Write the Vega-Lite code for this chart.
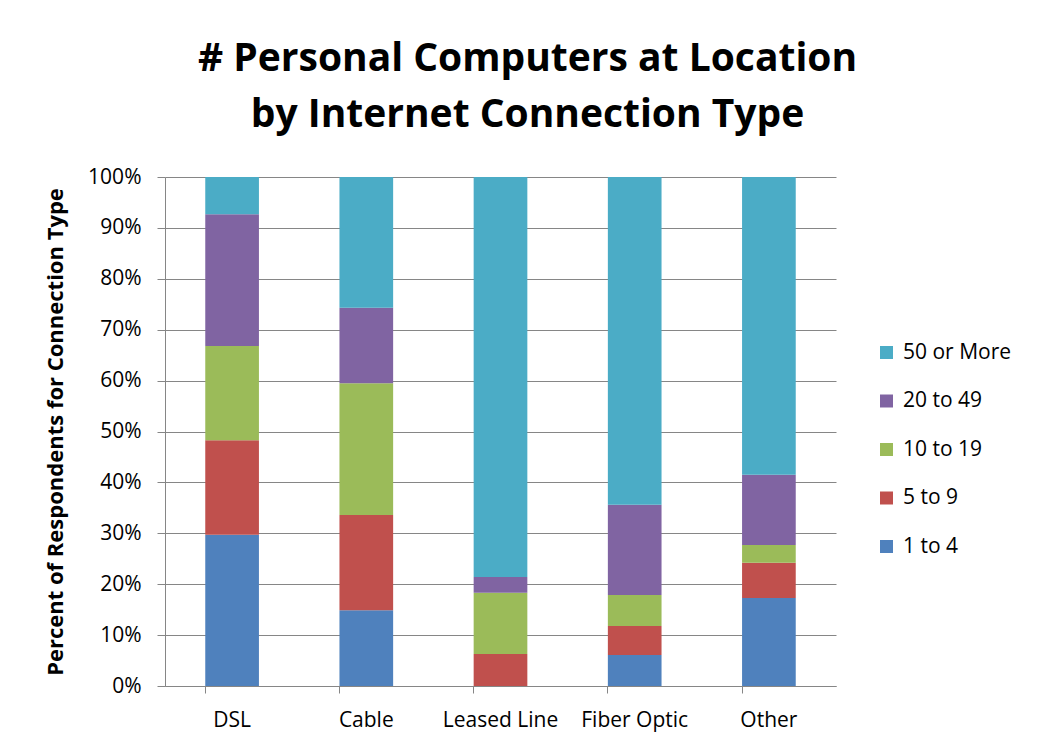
{
  "$schema": "https://vega.github.io/schema/vega-lite/v6.json",
  "autosize": {"type": "none"},
  "width": 671,
  "height": 509,
  "padding": {"left": 165, "top": 177, "right": 201, "bottom": 60},
  "background": "white",
  "title": {
    "text": ["# Personal Computers at Location", "by Internet Connection Type"],
    "font": "Open Sans",
    "fontSize": 39,
    "fontWeight": "bold",
    "color": "black",
    "lineHeight": 56,
    "anchor": "middle",
    "dx": 27,
    "offset": 31
  },
  "data": {
    "values": [
      {"type": "DSL", "size": "1 to 4", "k": 1, "pct": 29.7},
      {"type": "DSL", "size": "5 to 9", "k": 2, "pct": 18.6},
      {"type": "DSL", "size": "10 to 19", "k": 3, "pct": 18.5},
      {"type": "DSL", "size": "20 to 49", "k": 4, "pct": 25.9},
      {"type": "DSL", "size": "50 or More", "k": 5, "pct": 7.3},
      {"type": "Cable", "size": "1 to 4", "k": 1, "pct": 14.9},
      {"type": "Cable", "size": "5 to 9", "k": 2, "pct": 18.7},
      {"type": "Cable", "size": "10 to 19", "k": 3, "pct": 25.9},
      {"type": "Cable", "size": "20 to 49", "k": 4, "pct": 14.8},
      {"type": "Cable", "size": "50 or More", "k": 5, "pct": 25.7},
      {"type": "Leased Line", "size": "1 to 4", "k": 1, "pct": 0},
      {"type": "Leased Line", "size": "5 to 9", "k": 2, "pct": 6.3},
      {"type": "Leased Line", "size": "10 to 19", "k": 3, "pct": 12.0},
      {"type": "Leased Line", "size": "20 to 49", "k": 4, "pct": 3.1},
      {"type": "Leased Line", "size": "50 or More", "k": 5, "pct": 78.6},
      {"type": "Fiber Optic", "size": "1 to 4", "k": 1, "pct": 6.1},
      {"type": "Fiber Optic", "size": "5 to 9", "k": 2, "pct": 5.7},
      {"type": "Fiber Optic", "size": "10 to 19", "k": 3, "pct": 6.1},
      {"type": "Fiber Optic", "size": "20 to 49", "k": 4, "pct": 17.7},
      {"type": "Fiber Optic", "size": "50 or More", "k": 5, "pct": 64.4},
      {"type": "Other", "size": "1 to 4", "k": 1, "pct": 17.3},
      {"type": "Other", "size": "5 to 9", "k": 2, "pct": 6.9},
      {"type": "Other", "size": "10 to 19", "k": 3, "pct": 3.5},
      {"type": "Other", "size": "20 to 49", "k": 4, "pct": 13.8},
      {"type": "Other", "size": "50 or More", "k": 5, "pct": 58.5}
    ]
  },
  "mark": {"type": "bar"},
  "encoding": {
    "x": {
      "field": "type",
      "type": "nominal",
      "sort": ["DSL", "Cable", "Leased Line", "Fiber Optic", "Other"],
      "scale": {"paddingInner": 0.6, "paddingOuter": 0.3},
      "axis": {
        "title": null,
        "labelAngle": 0,
        "labelFont": "Open Sans",
        "labelFontSize": 21,
        "labelColor": "black",
        "labelPadding": 16,
        "bandPosition": 0,
        "ticks": true,
        "tickSize": 7,
        "tickColor": "#868686",
        "domainColor": "#868686",
        "grid": false
      }
    },
    "y": {
      "field": "pct",
      "type": "quantitative",
      "stack": "zero",
      "scale": {"domain": [0, 100], "nice": false},
      "axis": {
        "title": "Percent of Respondents for Connection Type",
        "titleFont": "Open Sans",
        "titleFontSize": 22,
        "titleFontWeight": "bold",
        "titleColor": "black",
        "titlePadding": 20,
        "values": [0, 10, 20, 30, 40, 50, 60, 70, 80, 90, 100],
        "labelExpr": "datum.value + '%'",
        "labelFont": "Open Sans",
        "labelFontSize": 21,
        "labelColor": "black",
        "labelPadding": 16,
        "tickSize": 8,
        "tickColor": "#868686",
        "domainColor": "#868686",
        "grid": true,
        "gridColor": "#868686"
      }
    },
    "color": {
      "field": "size",
      "type": "nominal",
      "scale": {
        "domain": ["50 or More", "20 to 49", "10 to 19", "5 to 9", "1 to 4"],
        "range": ["#4BACC6", "#8064A2", "#9BBB59", "#C0504D", "#4F81BD"]
      },
      "legend": {
        "title": null,
        "orient": "none",
        "legendX": 711,
        "legendY": 165,
        "symbolType": "square",
        "symbolSize": 169,
        "symbolStrokeWidth": 0,
        "labelFont": "Open Sans",
        "labelFontSize": 21,
        "labelColor": "black",
        "rowPadding": 26.5,
        "labelOffset": 6
      }
    },
    "order": {"field": "k", "type": "quantitative", "sort": "ascending"}
  },
  "config": {"view": {"stroke": null}}
}
